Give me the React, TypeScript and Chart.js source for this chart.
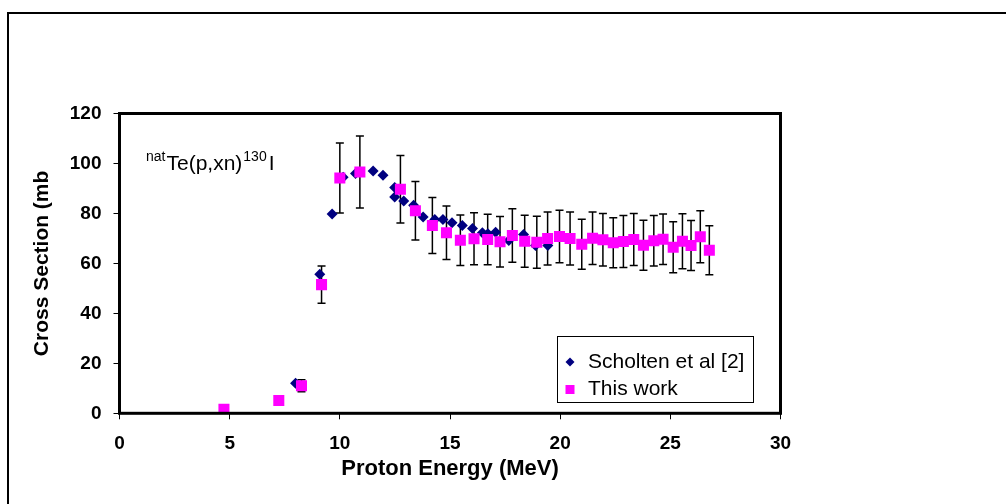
import React, { useEffect, useRef } from "react";
import { Chart, registerables } from "chart.js";

Chart.register(...registerables);

// This work (magenta squares)
const thisWorkEnergy = [4.74, 7.23, 8.26, 9.17, 10.0, 10.91, 12.75, 13.43, 14.2, 14.84, 15.47, 16.09, 16.71, 17.27, 17.83, 18.39, 18.94, 19.43, 19.97, 20.45, 20.98, 21.47, 21.94, 22.41, 22.87, 23.34, 23.78, 24.25, 24.67, 25.13, 25.55, 25.94, 26.36, 26.77];
const thisWorkCS = [1.6, 5.1, 11.0, 51.5, 94.2, 96.6, 89.7, 81.1, 75.2, 72.3, 69.3, 69.9, 69.6, 68.7, 71.2, 68.9, 68.5, 70.0, 70.8, 70.0, 67.7, 70.1, 69.5, 68.3, 68.8, 69.6, 67.3, 69.1, 69.7, 66.5, 68.9, 67.2, 70.7, 65.3];
const thisWorkErr = [0.4, 1.5, 2.4, 7.5, 14.0, 14.4, 13.5, 11.7, 11.2, 10.7, 10.1, 10.4, 10.1, 10.1, 10.7, 10.4, 10.4, 10.6, 10.5, 10.6, 10.0, 10.5, 10.5, 10.0, 10.4, 10.4, 10.0, 10.1, 10.1, 10.2, 11.0, 10.0, 10.4, 9.8];

// Scholten et al [2] (navy diamonds)
const scholtenEnergy = [7.99, 9.09, 9.65, 10.15, 10.71, 11.51, 11.96, 12.49, 12.49, 12.9, 13.35, 13.78, 14.31, 14.68, 15.09, 15.56, 16.02, 16.47, 16.72, 17.07, 17.67, 18.34, 18.88, 19.44];
const scholtenCS = [12.0, 55.7, 79.8, 94.5, 96.0, 97.0, 95.3, 90.4, 86.6, 85.0, 83.3, 78.6, 77.6, 77.6, 76.3, 75.2, 74.0, 72.3, 71.9, 72.5, 69.2, 71.6, 67.2, 67.2];

const xTicks = [0, 5, 10, 15, 20, 25, 30];
const yTicks = [0, 20, 40, 60, 80, 100, 120];

const xTitle = "Proton Energy (MeV)";
const yTitle = "Cross Section (mb";
const legendLabels = ["Scholten et al [2]", "This work"];

const FONT = "'Liberation Sans', Arial, sans-serif";
const NAVY = "#000080";
const MAGENTA = "#FF00FF";

export default function App() {
  const ref = useRef<HTMLCanvasElement | null>(null);

  useEffect(() => {
    const canvas = ref.current;
    if (!canvas) return;

    const errorBars = {
      id: "errorBars",
      beforeDatasetsDraw(chart: any) {
        const { ctx, scales } = chart;
        const xs = scales.x;
        const ys = scales.y;
        ctx.save();
        ctx.strokeStyle = "#000";
        ctx.lineWidth = 1.5;
        thisWorkEnergy.forEach((e, i) => {
          const px = xs.getPixelForValue(e);
          const top = ys.getPixelForValue(thisWorkCS[i] + thisWorkErr[i]);
          const bot = ys.getPixelForValue(thisWorkCS[i] - thisWorkErr[i]);
          ctx.beginPath();
          ctx.moveTo(px, top);
          ctx.lineTo(px, bot);
          ctx.moveTo(px - 4, top);
          ctx.lineTo(px + 4, top);
          ctx.moveTo(px - 4, bot);
          ctx.lineTo(px + 4, bot);
          ctx.stroke();
        });
        ctx.restore();
      },
    };

    const decorations = {
      id: "decorations",
      afterDraw(chart: any) {
        const { ctx, chartArea } = chart;
        ctx.save();
        // outer frame
        ctx.strokeStyle = "#000";
        ctx.lineWidth = 2;
        ctx.strokeRect(8, 13, 1100, 600);
        // plot frame
        ctx.lineWidth = 3;
        ctx.strokeRect(chartArea.left, chartArea.top, chartArea.right - chartArea.left, chartArea.bottom - chartArea.top);

        // annotation
        ctx.fillStyle = "#000";
        ctx.textBaseline = "alphabetic";
        ctx.textAlign = "left";
        let x = 146;
        ctx.font = `14px ${FONT}`;
        ctx.fillText("nat", x, 161);
        x += ctx.measureText("nat").width + 1;
        ctx.font = `21px ${FONT}`;
        ctx.fillText("Te(p,xn)", x, 170);
        x += ctx.measureText("Te(p,xn)").width + 1;
        ctx.font = `14px ${FONT}`;
        ctx.fillText("130", x, 161);
        x += ctx.measureText("130").width + 2;
        ctx.font = `21px ${FONT}`;
        ctx.fillText("I", x, 170);

        // legend
        ctx.fillStyle = "#fff";
        ctx.fillRect(557.5, 336.5, 196, 66);
        ctx.strokeStyle = "#000";
        ctx.lineWidth = 1;
        ctx.strokeRect(557.5, 336.5, 196, 66);
        // diamond
        ctx.fillStyle = NAVY;
        ctx.beginPath();
        ctx.moveTo(570, 357.5);
        ctx.lineTo(574.5, 362);
        ctx.lineTo(570, 366.5);
        ctx.lineTo(565.5, 362);
        ctx.closePath();
        ctx.fill();
        // square
        ctx.fillStyle = MAGENTA;
        ctx.fillRect(565.5, 385, 9, 9);
        ctx.fillStyle = "#000";
        ctx.font = `21px ${FONT}`;
        ctx.textBaseline = "middle";
        ctx.fillText(legendLabels[0], 588, 362);
        ctx.fillText(legendLabels[1], 588, 389);
        ctx.restore();
      },
    };

    const chart = new Chart(canvas, {
      type: "scatter",
      data: {
        datasets: [
          {
            label: legendLabels[1],
            data: thisWorkEnergy.map((e, i) => ({ x: e, y: thisWorkCS[i] })),
            pointStyle: "rect",
            pointRadius: 7.8,
            pointHoverRadius: 7.8,
            backgroundColor: MAGENTA,
            borderColor: MAGENTA,
            borderWidth: 0,
            showLine: false,
            order: 0,
          },
          {
            label: legendLabels[0],
            data: scholtenEnergy.map((e, i) => ({ x: e, y: scholtenCS[i] })),
            pointStyle: "rectRot",
            pointRadius: 5.5,
            pointHoverRadius: 5.5,
            backgroundColor: NAVY,
            borderColor: NAVY,
            borderWidth: 0,
            showLine: false,
            order: 1,
          },
        ],
      },
      options: {
        responsive: false,
        animation: false,
        devicePixelRatio: 1,
        layout: { padding: { left: 0, right: 225.5, top: 113.5, bottom: 0 } },
        plugins: {
          legend: { display: false },
          tooltip: { enabled: false },
        },
        scales: {
          x: {
            type: "linear",
            min: 0,
            max: 30,
            afterBuildTicks: (scale: any) => {
              scale.ticks = xTicks.map((v) => ({ value: v }));
            },
            afterFit: (scale: any) => {
              scale.height = 90.7;
            },
            grid: { drawOnChartArea: false, drawTicks: true, tickLength: 6, color: "#000", lineWidth: 1 },
            border: { display: false },
            ticks: {
              color: "#000",
              font: { family: FONT, size: 19, weight: "bold" },
              padding: 13,
              maxRotation: 0,
              autoSkip: false,
            },
            title: {
              display: true,
              text: xTitle,
              color: "#000",
              font: { family: FONT, size: 22, weight: "bold" },
              padding: { top: 0, bottom: 22 },
            },
          },
          y: {
            type: "linear",
            min: 0,
            max: 120,
            afterBuildTicks: (scale: any) => {
              scale.ticks = yTicks.map((v) => ({ value: v }));
            },
            afterFit: (scale: any) => {
              scale.width = 119.5;
            },
            grid: { drawOnChartArea: false, drawTicks: true, tickLength: 6, color: "#000", lineWidth: 1 },
            border: { display: false },
            ticks: {
              color: "#000",
              font: { family: FONT, size: 19, weight: "bold" },
              padding: 12,
              autoSkip: false,
            },
            title: {
              display: true,
              text: yTitle,
              color: "#000",
              font: { family: FONT, size: 21, weight: "bold" },
              padding: { top: 30, bottom: 0 },
            },
          },
        },
      },
      plugins: [errorBars, decorations],
    } as any);

    return () => {
      chart.destroy();
    };
  }, []);

  return (
    <div style={{ position: "absolute", left: 0, top: 0, width: 1006, height: 504, background: "#fff" }}>
      <canvas ref={ref} width={1006} height={504} style={{ display: "block", width: 1006, height: 504 }} />
    </div>
  );
}
